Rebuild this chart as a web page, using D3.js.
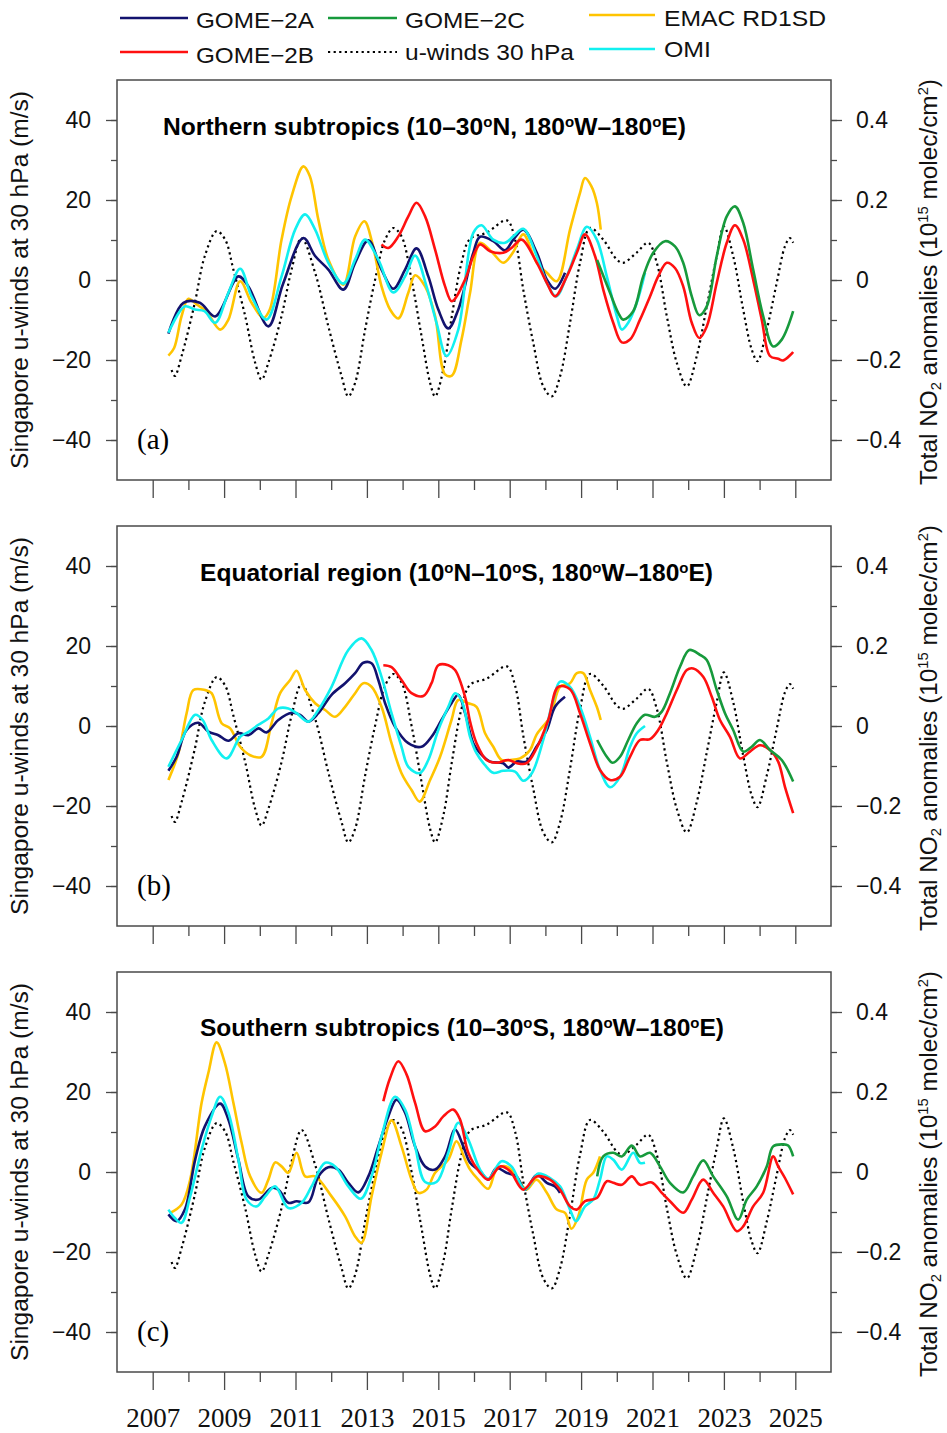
<!DOCTYPE html>
<html><head><meta charset="utf-8">
<script src="https://cdn.jsdelivr.net/npm/d3@7"></script>
<style>body{margin:0;background:#fff}svg{display:block}</style>
</head><body>
<svg id="chart" width="947" height="1433"></svg>
<script>
// ---------------- DATA ----------------
const yearTicks = [2007,2009,2011,2013,2015,2017,2019,2021,2023,2025];
const leftTicks = [-40,-20,0,20,40];
const rightTicks = [-0.4,-0.2,0,0.2,0.4];
const panelLetters = ["(a)","(b)","(c)"];
const legendNames = ["GOME−2A","GOME−2B","GOME−2C","u-winds 30 hPa","EMAC RD1SD","OMI"];

// Singapore u-winds at 30 hPa (m/s), [year, value]
const uWind = [[2007.53,-22.5],[2007.62,-24],[2007.81,-19],[2008.18,-5.7],[2008.46,6],[2008.79,12.2],[2009.03,10.1],[2009.26,2.6],[2009.59,-9],[2009.87,-20.7],[2010.05,-24.9],[2010.24,-20.7],[2010.61,-9],[2010.89,2.6],[2011.17,10.5],[2011.55,1.8],[2011.92,-11.6],[2012.29,-24],[2012.48,-29.1],[2012.67,-25.7],[2012.95,-12.4],[2013.23,0.1],[2013.51,10.1],[2013.74,13],[2013.97,10.9],[2014.25,0.1],[2014.53,-14],[2014.77,-25.7],[2014.91,-29.1],[2015.14,-22.4],[2015.38,-9],[2015.65,4.3],[2015.89,10.3],[2016.35,11.8],[2016.92,14.9],[2017.15,10.1],[2017.38,-2.4],[2017.66,-15.7],[2017.94,-26.6],[2018.18,-29.1],[2018.41,-24.1],[2018.69,-10.7],[2018.97,4.3],[2019.25,13],[2019.62,10.1],[2020.0,5.1],[2020.18,4.3],[2020.55,6.8],[2020.88,9.3],[2021.12,4.3],[2021.4,-9],[2021.68,-20.7],[2021.96,-26.6],[2022.24,-19],[2022.52,-6.6],[2022.8,6],[2023.0,13.4],[2023.26,6],[2023.54,-7.4],[2023.78,-17.4],[2023.94,-20.3],[2024.2,-12.4],[2024.48,-0.7],[2024.71,8.4],[2024.85,10.5],[2024.94,9.3]];

// Total NO2 anomalies (1e15 molec/cm2), [year, value]
// (a) Northern subtropics
const a_g2a = [[2007.44,-.134],[2007.86,-.057],[2008.32,-.057],[2008.75,-.091],[2009.4,.009],[2009.68,-.016],[2010.24,-.116],[2010.65,-.01],[2011.22,.105],[2011.55,.06],[2011.92,.026],[2012.34,-.024],[2012.67,.043],[2013.04,.099],[2013.41,.026],[2013.74,-.022],[2014.07,.026],[2014.39,.079],[2014.72,.009],[2015.0,-.074],[2015.28,-.121],[2015.56,-.074],[2015.98,.068],[2016.17,.108],[2016.54,.097],[2016.87,.074],[2017.1,.101],[2017.38,.126],[2017.76,.068],[2018.04,.001],[2018.27,-.022],[2018.55,.018]];
const a_g2b = [[2013.41,.089],[2013.6,.08],[2013.88,.109],[2014.16,.159],[2014.39,.193],[2014.63,.159],[2014.91,.076],[2015.19,-.016],[2015.38,-.053],[2015.75,.001],[2015.98,.06],[2016.17,.089],[2016.45,.072],[2016.82,.068],[2017.05,.08],[2017.33,.101],[2017.76,.043],[2018.04,-.007],[2018.27,-.041],[2018.6,.009],[2018.88,.068],[2019.11,.114],[2019.39,.06],[2019.62,-.024],[2019.9,-.107],[2020.14,-.156],[2020.37,-.149],[2020.65,-.099],[2020.93,-.041],[2021.16,.009],[2021.4,.043],[2021.63,.03],[2021.86,-.016],[2022.1,-.107],[2022.31,-.145],[2022.52,-.116],[2022.8,-.007],[2023.08,.093],[2023.31,.137],[2023.54,.101],[2023.82,.001],[2024.06,-.099],[2024.29,-.19],[2024.52,-.197],[2024.66,-.201],[2024.94,-.18]];
const a_g2c = [[2019.45,.05],[2019.81,-.032],[2020.04,-.082],[2020.18,-.099],[2020.46,-.078],[2020.74,.009],[2021.02,.068],[2021.35,.097],[2021.63,.084],[2021.86,.043],[2022.1,-.041],[2022.31,-.088],[2022.52,-.066],[2022.8,.06],[2023.08,.159],[2023.31,.184],[2023.54,.143],[2023.82,.026],[2024.1,-.09],[2024.38,-.166],[2024.62,-.149],[2024.94,-.078]];
const a_emac = [[2007.44,-.189],[2007.6,-.17],[2007.81,-.09],[2008.0,-.047],[2008.23,-.061],[2008.5,-.078],[2008.89,-.124],[2009.12,-.099],[2009.45,-.003],[2009.77,-.057],[2010.1,-.095],[2010.28,-.074],[2010.61,.101],[2010.89,.209],[2011.22,.284],[2011.4,.26],[2011.64,.151],[2011.92,.051],[2012.34,-.012],[2012.67,.109],[2012.93,.147],[2013.15,.093],[2013.41,-.016],[2013.65,-.074],[2013.88,-.096],[2014.16,-.032],[2014.35,.012],[2014.63,-.016],[2014.91,-.09],[2015.19,-.236],[2015.38,-.239],[2015.65,-.149],[2015.89,-.032],[2016.17,.093],[2016.5,.07],[2016.82,.043],[2017.1,.07],[2017.38,.114],[2017.76,.043],[2018.04,.018],[2018.32,-.003],[2018.69,.126],[2018.97,.218],[2019.11,.255],[2019.29,.234],[2019.44,.193],[2019.55,.126]];
const a_omi = [[2007.44,-.132],[2007.9,-.066],[2008.18,-.074],[2008.45,-.078],[2008.75,-.107],[2009.12,-.032],[2009.45,.028],[2009.77,-.041],[2010.19,-.099],[2010.61,.009],[2010.99,.126],[2011.27,.164],[2011.55,.126],[2011.92,.043],[2012.34,-.009],[2012.67,.051],[2012.95,.101],[2013.32,.051],[2013.74,-.031],[2014.07,.009],[2014.35,.061],[2014.67,-.016],[2014.95,-.107],[2015.23,-.19],[2015.56,-.124],[2015.98,.118],[2016.21,.137],[2016.54,.101],[2016.87,.093],[2017.1,.109],[2017.38,.128],[2017.76,.059],[2018.04,-.007],[2018.3,-.041],[2018.6,.01],[2018.88,.076],[2019.16,.133],[2019.44,.101],[2019.72,.009],[2020.0,-.09],[2020.14,-.124],[2020.32,-.107],[2020.56,-.057],[2020.79,.018]];

// (b) Equatorial region
const b_g2a = [[2007.44,-.112],[2007.67,-.077],[2007.95,-.01],[2008.28,.008],[2008.56,-.014],[2008.84,-.023],[2009.12,-.037],[2009.4,-.018],[2009.68,-.023],[2009.96,-.006],[2010.19,-.016],[2010.52,.015],[2010.89,.033],[2011.13,.028],[2011.36,.011],[2011.64,.032],[2012.01,.078],[2012.39,.107],[2012.67,.132],[2012.9,.158],[2013.13,.157],[2013.32,.115],[2013.51,.057],[2013.79,-.002],[2014.16,-.043],[2014.53,-.052],[2014.81,-.027],[2015.09,.015],[2015.37,.057],[2015.56,.078],[2015.75,.032],[2015.98,-.043],[2016.17,-.068],[2016.45,-.089],[2016.82,-.093],[2016.96,-.104],[2017.2,-.089],[2017.47,-.089],[2017.75,-.052],[2018.04,-.01],[2018.27,.048],[2018.55,.073]];
const b_g2b = [[2013.46,.152],[2013.69,.147],[2013.97,.115],[2014.25,.082],[2014.58,.075],[2014.81,.107],[2015.0,.152],[2015.28,.152],[2015.47,.14],[2015.75,.073],[2015.89,.011],[2016.07,-.043],[2016.35,-.085],[2016.63,-.092],[2016.96,-.085],[2017.2,-.093],[2017.47,-.093],[2017.75,-.056],[2018.08,.015],[2018.36,.098],[2018.69,.092],[2018.97,.032],[2019.25,-.043],[2019.53,-.11],[2019.81,-.135],[2020.09,-.127],[2020.37,-.077],[2020.65,-.035],[2020.93,-.033],[2021.16,-.01],[2021.4,.032],[2021.68,.09],[2021.96,.14],[2022.14,.144],[2022.42,.123],[2022.66,.073],[2022.89,.015],[2023.17,-.027],[2023.45,-.081],[2023.73,-.064],[2024.01,-.048],[2024.29,-.06],[2024.52,-.089],[2024.71,-.152],[2024.94,-.218]];
const b_g2c = [[2019.45,-.035],[2019.72,-.077],[2019.88,-.092],[2020.09,-.077],[2020.32,-.035],[2020.56,.007],[2020.79,.028],[2021.07,.023],[2021.26,.036],[2021.49,.082],[2021.77,.148],[2022.03,.19],[2022.33,.178],[2022.52,.165],[2022.8,.09],[2023.03,.032],[2023.26,-.01],[2023.54,-.064],[2023.78,-.052],[2024.01,-.035],[2024.29,-.06],[2024.62,-.085],[2024.94,-.139]];
const b_emac = [[2007.44,-.135],[2007.72,-.068],[2007.95,.032],[2008.14,.09],[2008.46,.09],[2008.65,.082],[2008.93,.007],[2009.17,-.006],[2009.45,-.052],[2009.73,-.073],[2010.05,-.077],[2010.33,.007],[2010.57,.082],[2010.85,.115],[2011.03,.138],[2011.27,.09],[2011.55,.057],[2011.83,.04],[2012.11,.023],[2012.39,.048],[2012.67,.082],[2012.9,.107],[2013.13,.098],[2013.41,.048],[2013.69,-.043],[2013.97,-.118],[2014.25,-.16],[2014.48,-.189],[2014.77,-.135],[2015.05,-.077],[2015.37,.015],[2015.56,.065],[2015.84,.057],[2016.07,.048],[2016.31,-.018],[2016.54,-.052],[2016.77,-.085],[2017.01,-.085],[2017.29,-.081],[2017.57,-.06],[2017.75,-.022],[2018.13,.023],[2018.41,.098],[2018.69,.107],[2018.88,.132],[2019.06,.132],[2019.25,.09],[2019.44,.048],[2019.55,.015]];
const b_omi = [[2007.44,-.102],[2007.81,-.035],[2008.19,.028],[2008.4,.015],[2008.65,-.035],[2009.07,-.081],[2009.45,-.027],[2009.7,-.014],[2009.96,.003],[2010.24,.019],[2010.52,.044],[2010.8,.044],[2011.03,.032],[2011.36,.011],[2011.64,.04],[2012.01,.098],[2012.48,.19],[2012.85,.219],[2013.13,.19],[2013.41,.123],[2013.69,.032],[2013.97,-.052],[2014.16,-.102],[2014.48,-.118],[2014.72,-.085],[2015.0,-.01],[2015.28,.048],[2015.47,.082],[2015.65,.065],[2015.89,-.027],[2016.07,-.068],[2016.31,-.098],[2016.54,-.117],[2016.82,-.112],[2017.15,-.114],[2017.38,-.137],[2017.62,-.118],[2017.94,-.035],[2018.22,.065],[2018.41,.111],[2018.69,.098],[2018.97,.048],[2019.25,-.027],[2019.53,-.11],[2019.81,-.153],[2020.09,-.127],[2020.37,-.052],[2020.56,-.018],[2020.79,0]];

// (c) Southern subtropics
const c_g2a = [[2007.44,-.106],[2007.67,-.123],[2007.9,-.094],[2008.19,.031],[2008.46,.114],[2008.89,.171],[2009.12,.131],[2009.4,.031],[2009.68,-.061],[2009.96,-.069],[2010.33,-.04],[2010.52,-.044],[2010.8,-.077],[2011.03,-.073],[2011.36,-.076],[2011.64,-.011],[2011.92,.012],[2012.2,.006],[2012.48,-.027],[2012.76,-.051],[2013.04,-.011],[2013.32,.064],[2013.6,.139],[2013.83,.181],[2014.07,.148],[2014.35,.064],[2014.63,.014],[2014.91,.006],[2015.19,.039],[2015.47,.106],[2015.7,.064],[2015.89,.023],[2016.17,.002],[2016.4,-.019],[2016.63,.01],[2016.91,-.002],[2017.19,-.011],[2017.43,-.044],[2017.76,-.007],[2018.04,-.027],[2018.27,-.036],[2018.41,-.052]];
const c_g2b = [[2013.46,.177],[2013.65,.235],[2013.88,.277],[2014.11,.244],[2014.35,.173],[2014.63,.102],[2014.91,.114],[2015.14,.139],[2015.42,.156],[2015.61,.131],[2015.84,.048],[2016.17,-.002],[2016.4,-.019],[2016.73,.014],[2017.01,.002],[2017.38,-.044],[2017.76,-.011],[2018.13,-.019],[2018.41,-.044],[2018.69,-.086],[2018.88,-.094],[2019.11,-.073],[2019.44,-.065],[2019.72,-.023],[2019.9,-.027],[2020.14,-.032],[2020.42,-.011],[2020.65,-.032],[2020.98,-.026],[2021.26,-.052],[2021.49,-.073],[2021.86,-.102],[2022.1,-.069],[2022.42,-.019],[2022.7,-.052],[2022.98,-.086],[2023.36,-.148],[2023.54,-.136],[2023.82,-.086],[2024.1,-.052],[2024.38,.039],[2024.52,.014],[2024.71,-.015],[2024.94,-.056]];
const c_g2c = [[2019.45,-.011],[2019.62,.039],[2019.9,.048],[2020.14,.039],[2020.42,.066],[2020.65,.039],[2020.93,.048],[2021.21,.014],[2021.49,-.027],[2021.86,-.051],[2022.14,-.011],[2022.42,.029],[2022.7,-.011],[2023.08,-.061],[2023.4,-.119],[2023.64,-.069],[2023.92,-.036],[2024.2,.014],[2024.38,.064],[2024.66,.069],[2024.8,.066],[2024.94,.039]];
const c_emac = [[2007.49,-.102],[2007.81,-.081],[2008.05,-.019],[2008.37,.173],[2008.56,.248],[2008.79,.324],[2009.02,.273],[2009.26,.173],[2009.49,.073],[2009.73,-.011],[2010.05,-.052],[2010.24,-.019],[2010.43,.024],[2010.61,.014],[2010.8,-.002],[2011.03,.048],[2011.27,-.011],[2011.55,-.011],[2012.01,-.061],[2012.39,-.111],[2012.67,-.161],[2012.85,-.177],[2013.13,-.061],[2013.41,.048],[2013.69,.129],[2013.97,.064],[2014.25,-.019],[2014.44,-.052],[2014.67,-.044],[2014.91,-.002],[2015.28,.031],[2015.51,.077],[2015.75,.031],[2015.89,.006],[2016.12,-.019],[2016.4,-.042],[2016.63,.006],[2016.91,.014],[2017.19,-.011],[2017.47,-.044],[2017.75,-.019],[2018.04,-.052],[2018.32,-.094],[2018.55,-.102],[2018.73,-.142],[2018.92,-.111],[2019.16,-.019],[2019.34,-.002],[2019.53,.039]];
const c_omi = [[2007.44,-.094],[2007.62,-.115],[2007.81,-.127],[2008.05,-.061],[2008.37,.056],[2008.65,.139],[2008.89,.188],[2009.12,.148],[2009.4,.031],[2009.63,-.069],[2009.91,-.086],[2010.15,-.061],[2010.43,-.036],[2010.8,-.09],[2011.17,-.077],[2011.45,-.036],[2011.83,.023],[2012.11,.014],[2012.48,-.036],[2012.83,-.067],[2013.13,-.011],[2013.41,.089],[2013.79,.188],[2014.07,.156],[2014.35,.064],[2014.63,-.025],[2014.95,-.025],[2015.28,.048],[2015.56,.123],[2015.84,.081],[2016.17,.006],[2016.4,-.017],[2016.77,.027],[2017.05,.014],[2017.43,-.044],[2017.8,-.004],[2018.13,-.015],[2018.41,-.036],[2018.69,-.094],[2018.86,-.123],[2019.11,-.086],[2019.34,-.069],[2019.53,-.019],[2019.72,.039],[2019.9,.031],[2020.14,.006],[2020.46,.048],[2020.65,.023],[2020.79,.023]];

// ---------------- STYLE / LAYOUT ----------------
const colors = {g2a:"#12126e", g2b:"#ff1010", g2c:"#179a3c", emac:"#ffc400", omi:"#12f0f0", wind:"#000"};
const panels = [
  {top:80,  title:["Northern subtropics (10–30","o","N, 180","o","W–180","o","E)"], tx:163, tw:523, ty:127,
   data:{emac:a_emac, g2a:a_g2a, omi:a_omi, g2b:a_g2b, g2c:a_g2c}},
  {top:526, title:["Equatorial region (10","o","N–10","o","S, 180","o","W–180","o","E)"], tx:200, tw:513, ty:573,
   data:{emac:b_emac, g2a:b_g2a, omi:b_omi, g2b:b_g2b, g2c:b_g2c}},
  {top:972, title:["Southern subtropics (10–30","o","S, 180","o","W–180","o","E)"], tx:200, tw:524, ty:1028,
   data:{emac:c_emac, g2a:c_g2a, omi:c_omi, g2b:c_g2b, g2c:c_g2c}}
];
const H = 400, X0 = 117, X1 = 831;
const SANS = "Liberation Sans, Arial, sans-serif";
const SERIF = "Liberation Serif, Times New Roman, serif";
const frameColor = "#4a4a4a";

const svg = d3.select("#chart");
const x = d3.scaleLinear().domain([2006,2026]).range([X0,X1]);

panels.forEach((p,i)=>{
  const g = svg.append("g");
  const yL = d3.scaleLinear().domain([-50,50]).range([p.top+H, p.top]);
  const yR = d3.scaleLinear().domain([-0.5,0.5]).range([p.top+H, p.top]);

  // frame
  g.append("rect").attr("x",X0).attr("y",p.top).attr("width",X1-X0).attr("height",H)
    .attr("fill","none").attr("stroke",frameColor).attr("stroke-width",1.5);

  // left axis: minor + major
  const minorL = d3.range(-40,41,10);
  g.append("g").attr("transform",`translate(${X0},0)`)
    .call(d3.axisLeft(yL).tickValues(minorL).tickSize(6).tickFormat(""))
    .call(s=>s.select(".domain").remove());
  g.append("g").attr("transform",`translate(${X0},0)`)
    .call(d3.axisLeft(yL).tickValues(leftTicks).tickSize(11).tickPadding(15).tickFormat(d3.format("d")))
    .call(s=>s.select(".domain").remove())
    .call(s=>s.selectAll("text").attr("font-family",SANS).attr("font-size",23).attr("fill","#111"));
  // right axis
  g.append("g").attr("transform",`translate(${X1},0)`)
    .call(d3.axisRight(yR).tickValues(d3.range(-4,5).map(v=>v/10)).tickSize(6).tickFormat(""))
    .call(s=>s.select(".domain").remove());
  g.append("g").attr("transform",`translate(${X1},0)`)
    .call(d3.axisRight(yR).tickValues(rightTicks).tickSize(11).tickPadding(14)
      .tickFormat(d=> d===0 ? "0" : d3.format(".1f")(d)))
    .call(s=>s.select(".domain").remove())
    .call(s=>s.selectAll("text").attr("font-family",SANS).attr("font-size",23).attr("fill","#111"));
  // bottom axis
  const evenYears = d3.range(2008,2025,2);
  g.append("g").attr("transform",`translate(0,${p.top+H})`)
    .call(d3.axisBottom(x).tickValues(evenYears).tickSize(10).tickFormat(""))
    .call(s=>s.select(".domain").remove());
  const bx = g.append("g").attr("transform",`translate(0,${p.top+H})`)
    .call(d3.axisBottom(x).tickValues(yearTicks).tickSize(18).tickPadding(18)
      .tickFormat(i===2 ? d3.format("d") : ""))
    .call(s=>s.select(".domain").remove());
  bx.selectAll("text").attr("font-family",SERIF).attr("font-size",27).attr("fill","#111")
    .attr("dy","0.71em");
  g.selectAll(".tick line").attr("stroke",frameColor).attr("stroke-width",1.3);

  // series
  const lineR = d3.line().x(d=>x(d[0])).y(d=>yR(d[1])).curve(d3.curveCatmullRom.alpha(0.5));
  const lineL = d3.line().x(d=>x(d[0])).y(d=>yL(d[1])).curve(d3.curveCatmullRom.alpha(0.5));
  g.append("path").datum(uWind).attr("d",lineL).attr("fill","none")
    .attr("stroke",colors.wind).attr("stroke-width",2.2).attr("stroke-dasharray","2.2,3.4");
  ["emac","g2a","omi","g2b","g2c"].forEach(k=>{
    g.append("path").datum(p.data[k]).attr("d",lineR).attr("fill","none")
      .attr("stroke",colors[k]).attr("stroke-width",2.6).attr("stroke-linejoin","round");
  });

  // title
  const t = g.append("text").attr("x",p.tx).attr("y",p.ty).attr("font-family",SANS)
    .attr("font-weight","bold").attr("font-size",23).attr("fill","#000")
    .attr("textLength",p.tw).attr("lengthAdjust","spacingAndGlyphs");
  p.title.forEach(s=>{
    if (s==="o") t.append("tspan").attr("font-size",14).attr("dy",-8).text("o");
    else t.append("tspan").attr("dy", t.selectAll("tspan").size()? 8 : 0).text(s);
  });

  // panel letter
  g.append("text").attr("x",137).attr("y",p.top+369).attr("font-family",SERIF)
    .attr("font-size",29).attr("fill","#000").text(panelLetters[i]);

  // axis titles
  const cy = p.top + H/2;
  g.append("text").attr("transform",`translate(28,${cy}) rotate(-90)`).attr("text-anchor","middle")
    .attr("font-family",SANS).attr("font-size",23).attr("fill","#111")
    .attr("textLength",378).attr("lengthAdjust","spacingAndGlyphs")
    .text("Singapore u-winds at 30 hPa (m/s)");
  const rt = g.append("text").attr("transform",`translate(937,${cy+2}) rotate(-90)`).attr("text-anchor","middle")
    .attr("font-family",SANS).attr("font-size",23).attr("fill","#111")
    .attr("textLength",406).attr("lengthAdjust","spacingAndGlyphs");
  rt.append("tspan").text("Total NO");
  rt.append("tspan").attr("font-size",14).attr("dy",4).text("2");
  rt.append("tspan").attr("dy",-4).text(" anomalies (10");
  rt.append("tspan").attr("font-size",14).attr("dy",-9).text("15");
  rt.append("tspan").attr("dy",9).text(" molec/cm");
  rt.append("tspan").attr("font-size",14).attr("dy",-9).text("2");
  rt.append("tspan").attr("dy",9).text(")");
});

// ---------------- LEGEND ----------------
const legendItems = [
  {name:legendNames[0], key:"g2a",  x1:120, x2:188, ly:18, tx:196, ty:28, tw:118},
  {name:legendNames[1], key:"g2b",  x1:120, x2:188, ly:52, tx:196, ty:63, tw:118},
  {name:legendNames[2], key:"g2c",  x1:328, x2:397, ly:18, tx:405, ty:28, tw:120},
  {name:legendNames[3], key:"wind", x1:328, x2:397, ly:52, tx:405, ty:60, tw:169},
  {name:legendNames[4], key:"emac", x1:589, x2:655, ly:15, tx:664, ty:26, tw:162},
  {name:legendNames[5], key:"omi",  x1:589, x2:655, ly:49, tx:664, ty:57, tw:47}
];
const lg = svg.append("g");
legendItems.forEach(it=>{
  lg.append("line").attr("x1",it.x1).attr("x2",it.x2).attr("y1",it.ly).attr("y2",it.ly)
    .attr("stroke",colors[it.key]).attr("stroke-width",it.key==="wind"?2.2:2.6)
    .attr("stroke-dasharray",it.key==="wind"?"2.2,3.4":null);
  lg.append("text").attr("x",it.tx).attr("y",it.ty).attr("font-family",SANS).attr("font-size",22)
    .attr("fill","#111").attr("textLength",it.tw).attr("lengthAdjust","spacingAndGlyphs").text(it.name);
});
</script>
</body></html>
